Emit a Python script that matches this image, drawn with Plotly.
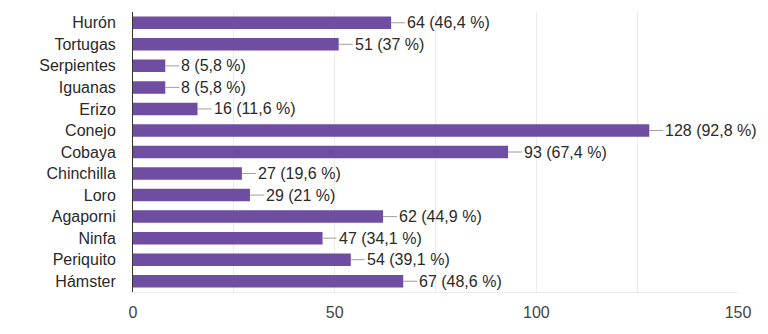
import plotly.graph_objects as go

categories = ["Hurón", "Tortugas", "Serpientes", "Iguanas", "Erizo", "Conejo", "Cobaya",
              "Chinchilla", "Loro", "Agaporni", "Ninfa", "Periquito", "Hámster"]
counts = [64, 51, 8, 8, 16, 128, 93, 27, 29, 62, 47, 54, 67]
percents = ["46,4", "37", "5,8", "5,8", "11,6", "92,8", "67,4", "19,6", "21", "44,9", "34,1", "39,1", "48,6"]
x_ticks = [0, 50, 100, 150]

FONT = "Liberation Sans, Arial, sans-serif"
BAR = "#6f4da0"

fig = go.Figure(go.Bar(
    y=categories, x=counts, orientation="h",
    marker=dict(color=BAR, line=dict(width=0)),
    hoverinfo="skip",
))

annotations = []
for c, v, p in zip(categories, counts, percents):
    annotations.append(dict(
        x=v, y=c, xref="x", yref="y",
        text=f"{v} ({p} %)",
        showarrow=True, arrowhead=0, arrowwidth=1, arrowcolor="#9e9e9e",
        ax=14, ay=0, standoff=0, xanchor="left", yanchor="middle",
        font=dict(family=FONT, size=16, color="#2a2a2a"),
        borderpad=1,
    ))

fig.update_layout(
    width=768, height=334,
    margin=dict(l=133, r=30, t=12, b=42),
    paper_bgcolor="white", plot_bgcolor="white",
    bargap=0.42,
    showlegend=False,
    annotations=annotations,
    font=dict(family=FONT, size=16, color="#2a2a2a"),
)
fig.update_xaxes(
    range=[0, 150], tickvals=x_ticks, ticktext=[str(t) for t in x_ticks],
    showgrid=True, gridcolor="#ebebeb", gridwidth=1,
    minor=dict(dtick=25, tick0=0, showgrid=True, gridcolor="#ebebeb", gridwidth=1),
    showline=True, linecolor="#ebebeb", linewidth=1,
    zeroline=False,
    ticks="outside", ticklen=6, tickcolor="rgba(0,0,0,0)",
    tickfont=dict(family=FONT, size=16, color="#444444"),
    fixedrange=True,
)
fig.update_yaxes(
    autorange="reversed",
    showgrid=False, zeroline=False,
    showline=True, linecolor="#333333", linewidth=1,
    ticks="outside", ticklen=13, tickcolor="rgba(0,0,0,0)",
    tickfont=dict(family=FONT, size=16, color="#2a2a2a"),
    fixedrange=True,
)

fig.write_html("out.html", config={"displayModeBar": False})
